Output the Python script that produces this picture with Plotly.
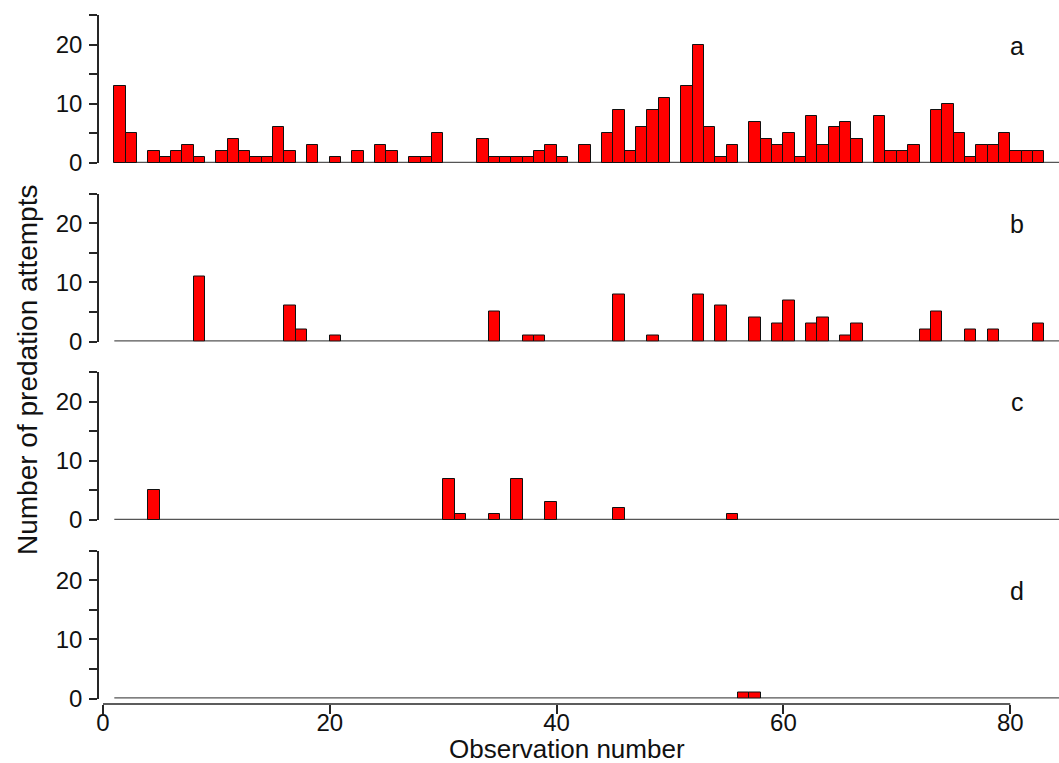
import plotly.graph_objects as go

# ---------------- data ----------------
observation = list(range(1, 83))

panel_a = [13, 5, 0, 2, 1, 2, 3, 1, 0, 2, 4, 2, 1, 1, 6, 2, 0, 3, 0, 1,
           0, 2, 0, 3, 2, 0, 1, 1, 5, 0, 0, 0, 4, 1, 1, 1, 1, 2, 3, 1,
           0, 3, 0, 5, 9, 2, 6, 9, 11, 0, 13, 20, 6, 1, 3, 0, 7, 4, 3, 5,
           1, 8, 3, 6, 7, 4, 0, 8, 2, 2, 3, 0, 9, 10, 5, 1, 3, 3, 5, 2,
           2, 2]

panel_b_obs = [8, 16, 17, 20, 34, 37, 38, 45, 48, 52, 54, 57, 59, 60, 62, 63, 65, 66, 72, 73, 76, 78, 82]
panel_b_val = [11, 6, 2, 1, 5, 1, 1, 8, 1, 8, 6, 4, 3, 7, 3, 4, 1, 3, 2, 5, 2, 2, 3]

panel_c_obs = [4, 30, 31, 34, 36, 39, 45, 55]
panel_c_val = [5, 7, 1, 1, 7, 3, 2, 1]

panel_d_obs = [56, 57]
panel_d_val = [1, 1]

panel_labels = ["a", "b", "c", "d"]
y_tick_vals = [0, 5, 10, 15, 20, 25]
y_tick_text = ["0", "", "10", "", "20", ""]
x_tick_vals = [0, 20, 40, 60, 80]

x_title = "Observation number"
y_title = "Number of predation attempts"

# ---------------- figure ----------------
W, H = 1059, 763
ML, MR, MT, MB = 99, 0, 15, 59
plot_h = H - MT - MB  # 689


def frac(pix):
    return (H - MB - pix) / plot_h


panel_top_px = [15, 193.5, 372, 550.5]
panel_h_px = 148

FONT = "Arial, Liberation Sans, sans-serif"
AX = "#262626"
TICK_SIZE = 24

series = [
    ([o for o, v in zip(observation, panel_a) if v > 0], [v for v in panel_a if v > 0]),
    (panel_b_obs, panel_b_val),
    (panel_c_obs, panel_c_val),
    (panel_d_obs, panel_d_val),
]

fig = go.Figure()
for i, (xs, ys) in enumerate(series):
    yname = "y" if i == 0 else f"y{i+1}"
    fig.add_trace(go.Bar(
        x=xs, y=ys, xaxis="x", yaxis=yname,
        width=1, offset=0,
        marker=dict(color="#ff0000", line=dict(color="#111111", width=1)),
        showlegend=False, hoverinfo="x+y",
    ))
# invisible trace that carries the tick-label axis
fig.add_trace(go.Scatter(x=[x_tick_vals[0]], y=[0], xaxis="x2", yaxis="y4",
                         mode="markers", marker=dict(opacity=0), showlegend=False,
                         hoverinfo="skip"))

x_max = 84.3
x_range = [-0.35, x_max]
layout = dict(
    width=W, height=H,
    margin=dict(l=ML, r=MR, t=MT, b=MB),
    paper_bgcolor="white", plot_bgcolor="white",
    bargap=0,
    font=dict(family=FONT, color="#111111"),
    xaxis=dict(
        range=x_range, domain=[0, 1], anchor="free", position=0,
        showline=False, showgrid=False, zeroline=False,
        tickmode="array", tickvals=x_tick_vals, ticks="outside",
        ticklen=9, tickwidth=1.5, tickcolor=AX, showticklabels=False,
    ),
    xaxis2=dict(
        range=x_range, domain=[0, 1], anchor="free", position=0, overlaying="x",
        showline=False, showgrid=False, zeroline=False,
        tickmode="array", tickvals=x_tick_vals, ticks="",
        tickfont=dict(size=TICK_SIZE, family=FONT, color="#111111"),
        ticklabelstandoff=2, side="bottom",
    ),
)

for i in range(4):
    key = "yaxis" if i == 0 else f"yaxis{i+1}"
    top = panel_top_px[i]
    bot = top + panel_h_px
    layout[key] = dict(
        domain=[frac(bot), frac(top)],
        range=[0, 25], anchor="x",
        showline=True, linecolor=AX, linewidth=1.5,
        showgrid=False, zeroline=False,
        tickmode="array", tickvals=y_tick_vals, ticktext=y_tick_text,
        ticks="outside", ticklen=8, tickwidth=1.5, tickcolor=AX,
        tickfont=dict(size=TICK_SIZE, family=FONT, color="#111111"),
        ticklabelstandoff=2,
    )

fig.update_layout(**layout)

shapes = []
for i in range(4):
    yref = "y" if i == 0 else f"y{i+1}"
    shapes.append(dict(type="line", xref="x", yref=yref, x0=1, x1=x_max, y0=0, y1=0,
                       line=dict(color="#555555", width=2.5), layer="below"))
# bottom axis line from 0 to 80
shapes.append(dict(type="line", xref="x", yref="paper", x0=0, x1=80, y0=0, y1=0,
                   line=dict(color=AX, width=1.5)))
fig.update_layout(shapes=shapes)

label_y = [19.8, 19.9, 19.9, 18.2]
annotations = []
for i, lab in enumerate(panel_labels):
    yref = "y" if i == 0 else f"y{i+1}"
    annotations.append(dict(text=lab, xref="x", yref=yref, x=80.6, y=label_y[i],
                            showarrow=False, xanchor="center", yanchor="middle",
                            font=dict(size=25, family=FONT, color="#111111")))
annotations.append(dict(text=x_title, xref="paper", yref="paper",
                        x=(567 - ML) / (W - ML - MR), y=frac(749),
                        showarrow=False, xanchor="center", yanchor="middle", borderpad=0,
                        font=dict(size=26, family=FONT, color="#111111")))
annotations.append(dict(text=y_title, xref="paper", yref="paper",
                        x=(27 - ML) / (W - ML - MR), y=frac(370),
                        showarrow=False, xanchor="center", yanchor="middle", textangle=-90,
                        font=dict(size=28, family=FONT, color="#111111")))
fig.update_layout(annotations=annotations)

fig.write_html("out.html")
